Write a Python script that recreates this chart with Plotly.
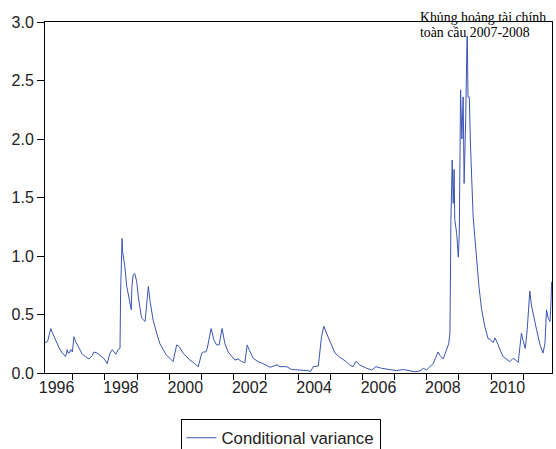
import plotly.graph_objects as go

# decimal-year time stamps and conditional variance values
t = [1996.14, 1996.16, 1996.22, 1996.32, 1996.36, 1996.42, 1996.50, 1996.57, 1996.65, 1996.73,
     1996.78, 1996.83, 1996.86, 1996.89, 1996.94, 1996.99, 1997.04, 1997.09, 1997.15, 1997.20,
     1997.30, 1997.40, 1997.51, 1997.61, 1997.66, 1997.76, 1997.87, 1997.97, 1998.07, 1998.16,
     1998.23, 1998.34, 1998.41, 1998.47, 1998.49, 1998.52, 1998.535, 1998.55, 1998.62, 1998.68,
     1998.76, 1998.80, 1998.82, 1998.84, 1998.88, 1998.93, 1998.99, 1999.04, 1999.14, 1999.25,
     1999.30, 1999.35, 1999.40, 1999.50, 1999.61, 1999.71, 1999.81, 1999.92, 2000.02, 2000.12,
     2000.23, 2000.31, 2000.43, 2000.54, 2000.64, 2000.75, 2000.85, 2000.90, 2001.01, 2001.06,
     2001.14, 2001.18, 2001.30, 2001.39, 2001.47, 2001.55, 2001.64, 2001.73, 2001.83, 2001.94,
     2002.04, 2002.14, 2002.25, 2002.35, 2002.42, 2002.48, 2002.61, 2002.76, 2002.92, 2003.13,
     2003.28, 2003.35, 2003.44, 2003.65, 2003.80, 2004.06, 2004.32, 2004.39, 2004.47, 2004.63,
     2004.68, 2004.73, 2004.80, 2004.87, 2004.99, 2005.15, 2005.30, 2005.46, 2005.61, 2005.71,
     2005.80, 2005.92, 2006.13, 2006.29, 2006.42, 2006.60, 2006.80, 2007.06, 2007.27, 2007.48,
     2007.63, 2007.79, 2007.89, 2007.99, 2008.20, 2008.35, 2008.41, 2008.51, 2008.62, 2008.68,
     2008.72, 2008.75, 2008.79, 2008.82, 2008.85, 2008.87, 2008.93, 2008.98, 2009.01, 2009.05,
     2009.09, 2009.13, 2009.16, 2009.19, 2009.21, 2009.25, 2009.26, 2009.28, 2009.32, 2009.36,
     2009.40, 2009.44, 2009.49, 2009.55, 2009.62, 2009.70, 2009.80, 2009.91, 2009.96, 2010.06,
     2010.12, 2010.22, 2010.27, 2010.37, 2010.48, 2010.58, 2010.68, 2010.77, 2010.84, 2010.89,
     2010.94, 2010.99, 2011.06, 2011.12, 2011.16, 2011.20, 2011.25, 2011.30, 2011.41, 2011.51,
     2011.61, 2011.67, 2011.72, 2011.77, 2011.83, 2011.86, 2011.88]

variance = [0.27, 0.26, 0.27, 0.38, 0.35, 0.31, 0.26, 0.22, 0.18, 0.15,
            0.14, 0.20, 0.17, 0.17, 0.20, 0.18, 0.31, 0.27, 0.24, 0.21,
            0.16, 0.14, 0.12, 0.15, 0.18, 0.17, 0.145, 0.125, 0.08, 0.17,
            0.20, 0.16, 0.20, 0.21, 0.71, 1.14, 1.15, 1.04, 0.91, 0.74,
            0.62, 0.54, 0.54, 0.74, 0.84, 0.85, 0.78, 0.65, 0.47, 0.44,
            0.62, 0.74, 0.62, 0.45, 0.34, 0.25, 0.20, 0.15, 0.125, 0.097,
            0.24, 0.225, 0.17, 0.14, 0.11, 0.09, 0.07, 0.054, 0.17, 0.18,
            0.18, 0.21, 0.38, 0.28, 0.24, 0.24, 0.38, 0.25, 0.18, 0.14,
            0.11, 0.12, 0.097, 0.088, 0.24, 0.20, 0.125, 0.097, 0.08, 0.049,
            0.06, 0.07, 0.054, 0.054, 0.03, 0.026, 0.02, 0.011, 0.054, 0.06,
            0.20, 0.31, 0.40, 0.35, 0.27, 0.17, 0.134, 0.105, 0.068, 0.054,
            0.10, 0.068, 0.04, 0.026, 0.054, 0.04, 0.034, 0.02, 0.03, 0.02,
            0.011, 0.017, 0.04, 0.026, 0.08, 0.18, 0.15, 0.12, 0.21, 0.25,
            0.34, 1.31, 1.82, 1.45, 1.74, 1.31, 1.19, 0.99, 1.19, 2.42,
            2.00, 2.36, 1.62, 1.93, 2.19, 2.86, 2.88, 2.36, 2.36, 1.93,
            1.62, 1.34, 1.17, 0.94, 0.74, 0.55, 0.40, 0.29, 0.29, 0.26,
            0.30, 0.24, 0.20, 0.14, 0.12, 0.097, 0.125, 0.11, 0.09, 0.25,
            0.34, 0.28, 0.21, 0.37, 0.51, 0.70, 0.58, 0.51, 0.37, 0.25,
            0.17, 0.25, 0.54, 0.47, 0.44, 0.61, 0.78]

label_years = [1996, 1998, 2000, 2002, 2004, 2006, 2008, 2010]
tick_years = list(range(1997, 2012))
y_ticks = [0.0, 0.5, 1.0, 1.5, 2.0, 2.5, 3.0]

series_name = "Conditional variance"
note_line1 = "Khủng hoảng tài chính"
note_line2 = "toàn cầu 2007-2008"

fig = go.Figure()
fig.add_trace(go.Scatter(x=t, y=variance, mode="lines", name=series_name,
                         line=dict(color="#3B55B4", width=1)))

tick_font = dict(family="Liberation Sans, Arial, sans-serif", size=16, color="#222222")

fig.update_layout(
    width=556, height=449,
    margin=dict(l=45, r=4, t=22, b=76, autoexpand=False),
    paper_bgcolor="white", plot_bgcolor="white",
    showlegend=True,
    legend=dict(orientation="h", x=0.4645, xanchor="center", y=-0.132, yanchor="top",
                bordercolor="black", borderwidth=1, bgcolor="white",
                font=dict(family="Liberation Sans, Arial, sans-serif", size=16.8, color="#222222")),
    xaxis=dict(range=[1996.14, 2011.89], showgrid=False, zeroline=False, automargin=False,
               showline=True, linecolor="black", linewidth=1, mirror=True,
               tickmode="array", tickvals=[y + 0.5 for y in label_years],
               ticktext=[str(y) for y in label_years], ticks="",
               tickfont=tick_font,
               minor=dict(tickmode="array", tickvals=tick_years, ticks="outside",
                          ticklen=6, tickcolor="black", tickwidth=1, showgrid=False)),
    yaxis=dict(range=[0, 3.0], showgrid=False, zeroline=False, automargin=False,
               showline=True, linecolor="black", linewidth=1, mirror=True,
               tickmode="array", tickvals=y_ticks, ticktext=[f"{v:.1f}" for v in y_ticks],
               ticks="outside", ticklen=7, tickcolor="black", tickfont=tick_font),
)

note_font = dict(family="Liberation Serif, Times New Roman, serif", size=13.8, color="black")
fig.add_annotation(x=(418 - 45) / 507, xref="paper", y=1.013, yref="paper",
                   text=note_line1, showarrow=False, xanchor="left", yanchor="middle", font=note_font)
fig.add_annotation(x=(418 - 45) / 507, xref="paper", y=0.9695, yref="paper",
                   text=note_line2, showarrow=False, xanchor="left", yanchor="middle", font=note_font)

# remove the default page margin so the 556x449 figure fills the window exactly
fig.write_html("out.html",
               config={"displayModeBar": False},
               post_script="document.body.style.margin='0';"
                           "document.documentElement.style.overflow='hidden';")
